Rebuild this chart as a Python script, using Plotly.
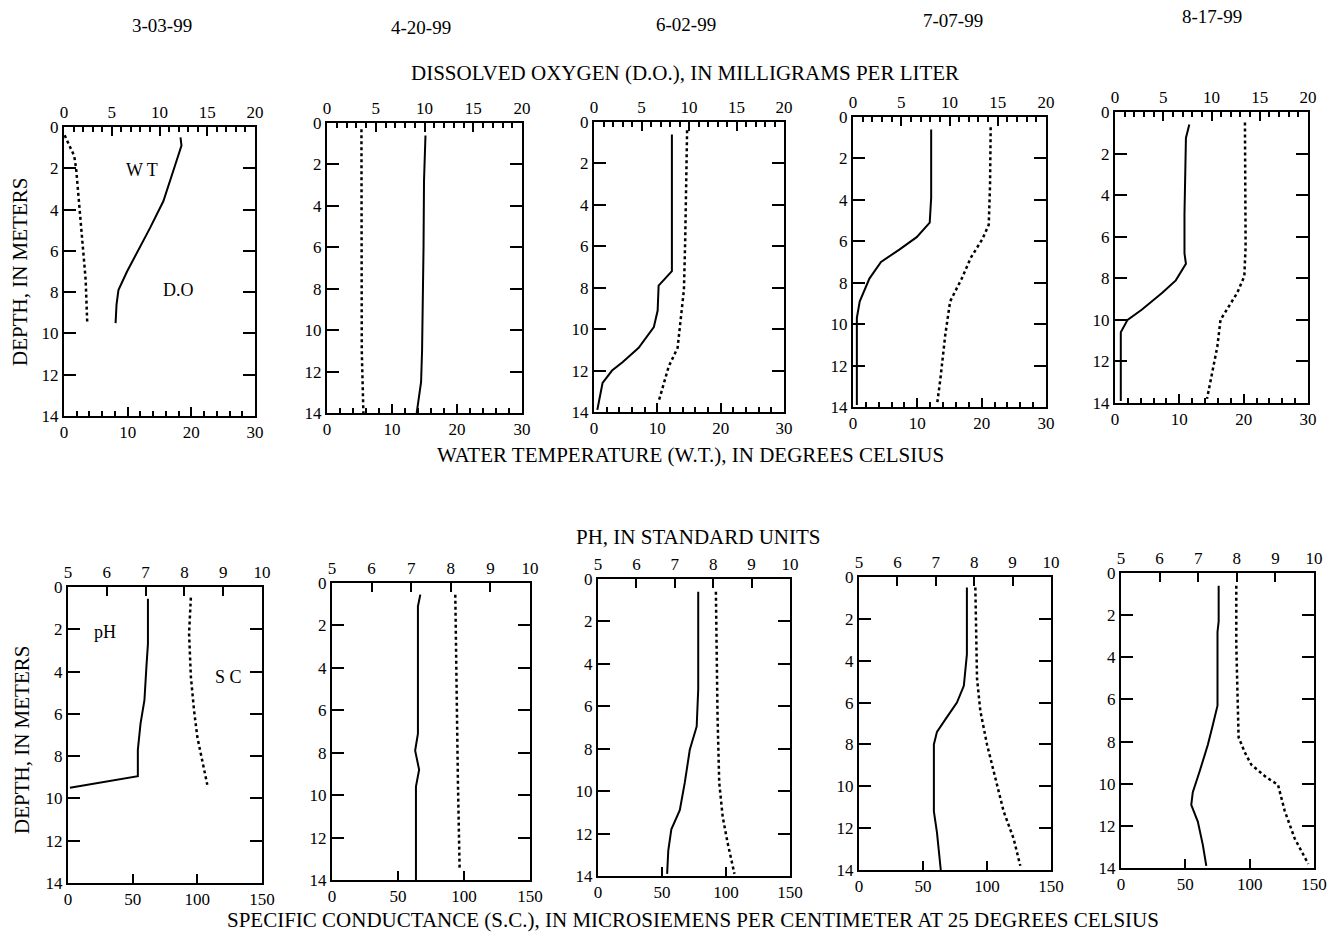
import plotly.graph_objects as go

W, H = 1335, 939
FONT = "Liberation Serif"

dates = ["3-03-99", "4-20-99", "6-02-99", "7-07-99", "8-17-99"]

# ---- Dissolved oxygen (mg/L, top axis of upper row) ----
do_0303_depth = [0.5, 0.9, 1.9, 3.6, 4.9, 6.1, 7.0, 7.9, 8.6, 9.5]
do_0303_val = [12.2, 12.3, 11.6, 10.4, 9.0, 7.6, 6.6, 5.7, 5.5, 5.4]
do_0420_depth = [0.6, 2.8, 6.0, 9.0, 11.0, 12.5, 13.3, 14.0]
do_0420_val = [10.1, 9.95, 9.9, 9.85, 9.75, 9.65, 9.45, 9.2]
do_0602_depth = [0.6, 7.2, 7.9, 9.1, 9.9, 10.9, 11.6, 12.0, 12.6, 13.9]
do_0602_val = [8.2, 8.2, 6.8, 6.7, 6.3, 4.7, 3.0, 1.9, 0.9, 0.35]
do_0707_depth = [0.6, 3.9, 5.1, 5.8, 6.4, 7.0, 7.8, 8.9, 9.7, 13.9]
do_0707_val = [8.1, 8.1, 7.95, 6.6, 4.8, 2.9, 1.7, 0.7, 0.4, 0.4]
do_0817_depth = [0.6, 1.25, 4.9, 6.8, 7.3, 8.1, 8.7, 9.5, 10.0, 10.6, 13.9]
do_0817_val = [7.7, 7.35, 7.2, 7.2, 7.35, 6.3, 4.9, 2.8, 1.3, 0.6, 0.6]

# ---- Water temperature (deg C, bottom axis of upper row) ----
wt_0303_depth = [0.4, 0.9, 1.4, 2.0, 3.5, 5.4, 7.4, 9.5]
wt_0303_val = [0.1, 0.8, 1.6, 1.9, 2.35, 2.9, 3.4, 3.65]
wt_0420_depth = [0.3, 4.0, 8.0, 11.0, 14.0]
wt_0420_val = [5.3, 5.3, 5.3, 5.35, 5.6]
wt_0602_depth = [0.4, 3.2, 5.7, 8.1, 9.7, 10.9, 11.8, 12.6, 13.5]
wt_0602_val = [14.7, 14.6, 14.4, 14.2, 13.6, 13.2, 11.8, 11.0, 10.2]
wt_0707_depth = [0.5, 3.3, 5.2, 5.9, 6.8, 7.8, 8.9, 10.5, 12.6, 13.8]
wt_0707_val = [21.4, 21.3, 21.1, 20.1, 18.3, 16.9, 15.1, 14.35, 13.6, 13.1]
wt_0817_depth = [0.5, 3.3, 6.5, 7.9, 8.7, 9.35, 10.0, 11.3, 12.6, 13.8]
wt_0817_val = [20.2, 20.3, 20.3, 20.1, 19.0, 17.7, 16.4, 15.9, 15.1, 14.3]

# ---- pH (standard units, top axis of lower row) ----
ph_0303_depth = [0.55, 2.7, 3.8, 5.35, 6.45, 7.7, 8.95, 9.5]
ph_0303_val = [7.06, 7.06, 7.02, 6.97, 6.87, 6.8, 6.8, 5.05]
ph_0420_depth = [0.55, 1.1, 7.1, 7.9, 8.8, 9.6, 14.0]
ph_0420_val = [7.23, 7.17, 7.17, 7.1, 7.2, 7.12, 7.12]
ph_0602_depth = [0.6, 5.2, 6.95, 8.05, 9.6, 10.9, 11.8, 12.8, 13.9]
ph_0602_val = [7.61, 7.61, 7.57, 7.39, 7.26, 7.13, 6.91, 6.83, 6.8]
ph_0707_depth = [0.5, 3.7, 5.2, 6.0, 6.8, 7.4, 8.0, 11.2, 12.2, 13.6, 14.0]
ph_0707_val = [7.81, 7.81, 7.73, 7.55, 7.25, 7.03, 6.95, 6.95, 7.03, 7.11, 7.13]
ph_0817_depth = [0.6, 2.3, 2.8, 6.3, 7.2, 8.15, 9.4, 10.4, 11.0, 11.8, 12.9, 13.9]
ph_0817_val = [7.53, 7.53, 7.5, 7.5, 7.38, 7.25, 7.04, 6.86, 6.82, 6.99, 7.12, 7.21]

# ---- Specific conductance (uS/cm, bottom axis of lower row) ----
sc_0303_depth = [0.5, 2.2, 4.25, 5.8, 7.1, 8.3, 9.35]
sc_0303_val = [95.0, 93.6, 95.0, 97.4, 100.0, 103.8, 107.7]
sc_0420_depth = [0.55, 4.7, 9.4, 13.5]
sc_0420_val = [93.4, 94.1, 95.4, 96.7]
sc_0602_depth = [0.6, 3.3, 6.5, 9.6, 11.2, 12.45, 13.9]
sc_0602_val = [92.1, 92.6, 93.4, 94.7, 97.4, 101.3, 106.6]
sc_0707_depth = [0.5, 2.5, 4.85, 6.4, 8.0, 9.6, 11.2, 12.5, 13.8]
sc_0707_val = [90.9, 91.7, 92.2, 94.8, 100.0, 106.5, 113.0, 120.8, 126.0]
sc_0817_depth = [0.6, 3.4, 6.6, 7.8, 8.5, 9.1, 9.7, 10.05, 11.3, 12.6, 13.8]
sc_0817_val = [89.6, 89.6, 90.9, 91.4, 96.1, 101.3, 113.0, 122.0, 127.3, 135.0, 145.5]

top_row = [
    (do_0303_depth, do_0303_val, wt_0303_depth, wt_0303_val),
    (do_0420_depth, do_0420_val, wt_0420_depth, wt_0420_val),
    (do_0602_depth, do_0602_val, wt_0602_depth, wt_0602_val),
    (do_0707_depth, do_0707_val, wt_0707_depth, wt_0707_val),
    (do_0817_depth, do_0817_val, wt_0817_depth, wt_0817_val),
]
bottom_row = [
    (ph_0303_depth, ph_0303_val, sc_0303_depth, sc_0303_val),
    (ph_0420_depth, ph_0420_val, sc_0420_depth, sc_0420_val),
    (ph_0602_depth, ph_0602_val, sc_0602_depth, sc_0602_val),
    (ph_0707_depth, ph_0707_val, sc_0707_depth, sc_0707_val),
    (ph_0817_depth, ph_0817_val, sc_0817_depth, sc_0817_val),
]

# plot-area boxes in pixels (left, right, top, bottom)
top_boxes = [(64, 255, 127, 416), (327, 522, 123, 413), (594, 784, 122, 412),
             (853, 1046, 117, 407), (1115, 1308, 112, 403)]
bot_boxes = [(68, 262, 587, 883), (332, 530, 583, 880), (598, 790, 579, 876),
             (859, 1051, 577, 870), (1121, 1314, 573, 868)]

fig = go.Figure()
layout = {}


def ref(kind, i):
    return kind if i == 1 else f"{kind}{i}"


def add_panel(p, box, data, top_rng, top_dtick, top_minor, bot_rng, bot_dtick, bot_minor):
    ddep, dval, wdep, wval = data
    b = 2 * p + 1
    t = 2 * p + 2
    yi = p + 1
    l, r, tp, bt = box
    xd = [l / W, r / W]
    yd = [1 - bt / H, 1 - tp / H]
    tickfont = dict(family=FONT, size=17, color="black")
    xb = dict(
        domain=xd, anchor=ref("y", yi), side="bottom", range=bot_rng, dtick=bot_dtick,
        tick0=bot_rng[0], ticks="inside", ticklen=9, tickwidth=1.5, tickcolor="black",
        showline=True, linecolor="black", linewidth=2, showgrid=False, zeroline=False,
        tickfont=tickfont, fixedrange=True, automargin=False)
    if bot_minor:
        xb["minor"] = dict(dtick=bot_minor, ticks="inside", ticklen=5, tickcolor="black")
    xt = dict(
        domain=xd, anchor=ref("y", yi), side="top", overlaying=ref("x", b), range=top_rng,
        dtick=top_dtick, tick0=top_rng[0], ticks="inside", ticklen=9, tickwidth=1.5,
        tickcolor="black", showline=True, linecolor="black", linewidth=2, showgrid=False,
        zeroline=False, tickfont=tickfont, fixedrange=True, automargin=False)
    if top_minor:
        xt["minor"] = dict(dtick=top_minor, ticks="inside", ticklen=5, tickcolor="black")
    layout[f"xaxis{b}"] = xb
    layout[f"xaxis{t}"] = xt
    layout[f"yaxis{yi}"] = dict(
        domain=yd, anchor=ref("x", b), range=[14, 0], dtick=2, ticks="inside", ticklen=12,
        tickwidth=1.5, tickcolor="black", mirror="ticks", showline=True, linecolor="black",
        linewidth=2, showgrid=False, zeroline=False, tickfont=tickfont, fixedrange=True,
        automargin=False)
    fig.add_trace(go.Scatter(x=dval, y=ddep, xaxis=ref("x", t), yaxis=ref("y", yi),
                             mode="lines", line=dict(color="black", width=2),
                             showlegend=False, hoverinfo="skip"))
    fig.add_trace(go.Scatter(x=wval, y=wdep, xaxis=ref("x", b), yaxis=ref("y", yi),
                             mode="lines", line=dict(color="black", width=2.5, dash="dot"),
                             showlegend=False, hoverinfo="skip"))


for i in range(5):
    add_panel(i, top_boxes[i], top_row[i], [0, 20], 5, 1, [0, 30], 10, 2)
for i in range(5):
    add_panel(5 + i, bot_boxes[i], bottom_row[i], [5, 10], 1, None, [0, 150], 50, None)

ann = []


def txt(x, y, s, size=17, angle=0):
    ann.append(dict(x=x / W, y=1 - y / H, xref="paper", yref="paper", text=s,
                    showarrow=False, textangle=angle,
                    font=dict(family=FONT, size=size, color="black"),
                    xanchor="center", yanchor="middle"))


date_pos = [(162, 25), (421, 28), (686, 24), (953, 20), (1212, 17)]
for d, (x, y) in zip(dates, date_pos):
    txt(x, y, d, 19)

txt(685, 73, "DISSOLVED OXYGEN (D.O.), IN MILLIGRAMS PER LITER", 21)
txt(690, 455, "WATER TEMPERATURE (W.T.), IN DEGREES CELSIUS", 21)
txt(698, 537, "PH, IN STANDARD UNITS", 21)
txt(693, 920, "SPECIFIC CONDUCTANCE (S.C.), IN MICROSIEMENS PER CENTIMETER AT 25 DEGREES CELSIUS", 21)
txt(20, 272, "DEPTH, IN METERS", 21, -90)
txt(22, 740, "DEPTH, IN METERS", 21, -90)
txt(142, 170, "W T", 18)
txt(178, 290, "D.O", 18)
txt(105, 632, "pH", 18)
txt(228, 677, "S C", 18)

fig.update_layout(**layout)
fig.update_layout(width=W, height=H, margin=dict(l=0, r=0, t=0, b=0, autoexpand=False),
                  paper_bgcolor="white", plot_bgcolor="white",
                  annotations=ann, showlegend=False)
fig.write_html("out.html")
